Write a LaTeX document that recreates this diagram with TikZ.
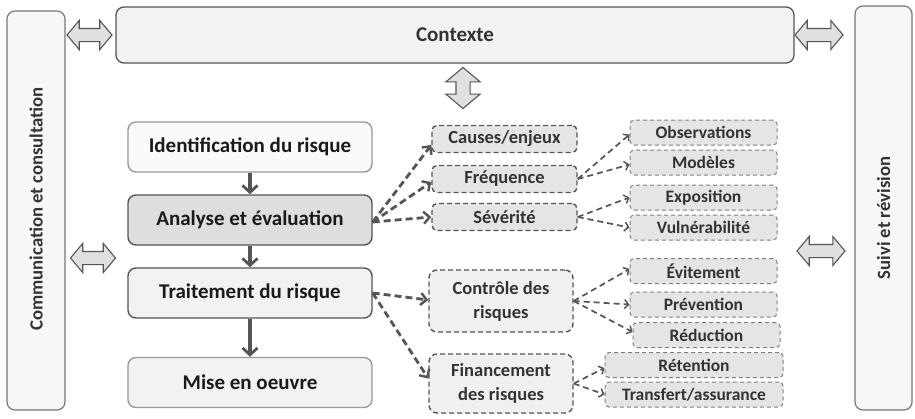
\documentclass[tikz,border=0pt]{standalone}
\usepackage{fontspec}
\setmainfont{Carlito}
\usetikzlibrary{arrows.meta,shapes.arrows,calc}
\definecolor{dk}{HTML}{555555}
\definecolor{txt}{HTML}{1A1A1A}
\definecolor{txt2}{HTML}{333333}
\tikzset{
  side/.style={draw=dk!80, line width=1.2pt, rounded corners=8pt, fill=black!3, minimum width=58pt},
  ctxbox/.style={draw=dk, line width=1.3pt, rounded corners=8pt, fill=black!5, minimum width=678pt, minimum height=56pt, font=\bfseries\fontsize{21}{24}\selectfont, text=txt2},
  mainbox/.style={draw=dk, line width=1.4pt, rounded corners=8pt, minimum width=244pt, minimum height=50pt, font=\bfseries\fontsize{21}{24}\selectfont, text=txt},
  midbox/.style={draw=dk, dashed, dash pattern=on 5pt off 3pt, line width=1.4pt, rounded corners=5pt, fill=black!10, minimum width=145pt, minimum height=27pt, font=\bfseries\fontsize{18.5}{20}\selectfont, text=txt2},
  bigmid/.style={midbox, fill=black!6, minimum width=144pt, align=center, font=\bfseries\fontsize{18.5}{24}\selectfont, rounded corners=8pt},
  rbox/.style={draw=black!50, dashed, dash pattern=on 4pt off 3pt, line width=1pt, rounded corners=4pt, fill=black!10, minimum width=147pt, minimum height=25pt, inner ysep=0pt, font=\bfseries\fontsize{17.5}{19}\selectfont, text=txt2},
  dbl/.style={double arrow, draw=dk, line width=1.1pt, fill=black!12, inner sep=0pt, text height=12pt, text depth=0pt, double arrow head extend=8pt, double arrow tip angle=100},
  solidarr/.style={draw=dk, line width=3.2pt, -{Straight Barb[length=7pt,width=15pt,line width=2.8pt]}},
  dasharr/.style={draw=dk, line width=2.8pt, dash pattern=on 7pt off 4pt, -{Straight Barb[length=6pt,width=12pt,line width=2.4pt]}},
  thinarr/.style={draw=dk, line width=1.7pt, dash pattern=on 6pt off 4pt, -{Straight Barb[length=4pt,width=9pt,line width=1.5pt]}},
}
\begin{document}
\begin{tikzpicture}[x=1pt,y=-1pt]
\useasboundingbox[fill=white] (0,0) rectangle (915,418);
% side panels
\node[side, minimum height=399pt] (comm) at (36,210.5) {};
\node[rotate=90, font=\bfseries\fontsize{18.7}{20}\selectfont, text=txt2] (commt) at (36,209) {Communication et consultation};
\node[side, minimum width=57pt, minimum height=404pt] (suivi) at (883.5,208) {};
\node[rotate=90, font=\bfseries\fontsize{18.7}{20}\selectfont, text=txt2] (suivit) at (883.5,218) {Suivi et révision};
% context
\node[ctxbox] (ctx) at (455,35) {Contexte};
% double arrows
\node[dbl, minimum height=45pt] (arrL) at (89.5,35) {};
\node[dbl, minimum height=48pt] (arrR) at (819,35) {};
\node[dbl, minimum height=41pt, text height=13pt, double arrow head extend=10pt, rotate=90] (arrV) at (463,88) {};
\node[dbl, minimum height=45pt] (arrML) at (93,258) {};
\node[dbl, minimum height=48pt] (arrMR) at (821,251) {};
% main boxes
\node[mainbox, fill=black!2, draw=black!40] (ident) at (250,147) {Identification du risque};
\node[mainbox, fill=black!13] (anal) at (250,220) {Analyse et évaluation};
\node[mainbox, fill=black!5] (trait) at (250,293) {Traitement du risque};
\node[mainbox, fill=black!5, draw=black!40] (mise) at (250,382.5) {Mise en oeuvre};
\draw[solidarr] (ident) -- (anal);
\draw[solidarr] (anal) -- (trait);
\draw[solidarr] (trait) -- (mise);
% mid column
\node[midbox] (causes) at (504.5,139) {Causes/enjeux};
\node[midbox] (freq) at (504.5,179) {Fréquence};
\node[midbox] (sev) at (504.5,217) {Sévérité};
\node[bigmid, minimum height=62pt] (ctrl) at (501,301) {Contrôle des\\risques};
\node[bigmid, minimum height=59pt] (fin) at (501,383.5) {Financement\\des risques};
% right column
\node[rbox] (obs) at (703.5,132.5) {Observations};
\node[rbox] (mod) at (703.5,162.5) {Modèles};
\node[rbox] (expo) at (703.5,197.5) {Exposition};
\node[rbox] (vul) at (703.5,227.5) {Vulnérabilité};
\node[rbox] (evit) at (703.5,271) {Évitement};
\node[rbox] (prev) at (703.5,304.5) {Prévention};
\node[rbox] (red) at (706.5,335) {Réduction};
\node[rbox, minimum width=178pt] (ret) at (694,365) {Rétention};
\node[rbox, minimum width=178pt] (trans) at (694,394.5) {Transfert/assurance};
% connectors
\draw[dasharr] ([yshift=-2pt]anal.east) -- ([yshift=-6pt]causes.west);
\draw[dasharr] ([yshift=-2pt]anal.east) -- ([yshift=-3pt]freq.west);
\draw[dasharr] ([yshift=-2pt]anal.east) -- (sev.west);
\draw[thinarr] (freq.east) -- ([yshift=-2pt]obs.west);
\draw[thinarr] (freq.east) -- ([yshift=-2pt]mod.west);
\draw[thinarr] (sev.east) -- (expo.west);
\draw[thinarr] (sev.east) -- (vul.west);
\draw[dasharr] (trait.east) -- ([yshift=1pt]ctrl.west);
\draw[dasharr] (trait.east) -- ([yshift=5pt]fin.west);
\draw[thinarr] (ctrl.east) -- ([yshift=2pt]evit.west);
\draw[thinarr] (ctrl.east) -- (prev.west);
\draw[thinarr] (ctrl.east) -- ([yshift=3pt]red.west);
\draw[thinarr] (fin.east) -- ([yshift=-3pt]ret.west);
\draw[thinarr] (fin.east) -- (trans.west);
\end{tikzpicture}
\end{document}
